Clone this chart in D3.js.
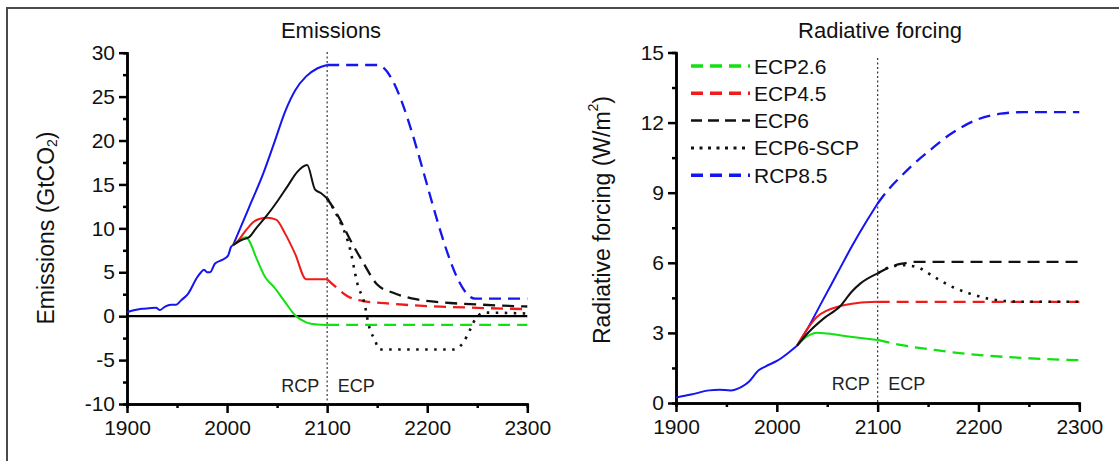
<!DOCTYPE html>
<html>
<head>
<meta charset="utf-8">
<script src="https://cdn.jsdelivr.net/npm/d3@7"></script>
<style>
  body { margin: 0; background: #fff; }
  svg { display: block; font-family: "Liberation Sans", Arial, sans-serif; }
  .axis path, .axis line { stroke: #000; stroke-width: 2.5; }
  .axis text { font-size: 21px; fill: #111; }
</style>
</head>
<body>
<svg width="1119" height="461"></svg>
<script>
// ---- data: [year, value] ----
const emisHistory = [[1900,0.45],[1908,0.7],[1915,0.85],[1922,0.9],[1929,0.95],[1933,0.7],[1938,1.1],[1944,1.3],[1949,1.3],[1954,1.8],[1961,2.55],[1970,4.4],[1974,5.0],[1977,5.3],[1980,5.0],[1983,5.0],[1988,6.0],[1995,6.4],[2001,6.9],[2004,7.9],[2006,8.1]];
const emisRcp85 = [[2006,8.1],[2022,12.4],[2036,16.2],[2047,19.7],[2058,23.3],[2068,25.7],[2079,27.3],[2090,28.2],[2100,28.6],[2150,28.6],[2248,2.0],[2300,2.0]];
const emisEcp45 = [[2006,8.1],[2011,8.6],[2019,9.8],[2026,10.7],[2033,11.1],[2040,11.2],[2049,11.0],[2058,9.4],[2068,7.1],[2079,4.2],[2100,4.2],[2110,3.2],[2120,2.3],[2135,1.75],[2160,1.45],[2200,1.15],[2250,0.95],[2300,0.8]];
const emisEcp6 = [[2006,8.1],[2015,8.7],[2022,9.0],[2029,10.0],[2040,11.5],[2051,13.2],[2061,14.9],[2070,16.4],[2080,17.2],[2088,14.4],[2094,14.0],[2100,13.4],[2110,11.6],[2123,8.7],[2136,6.1],[2150,3.6],[2166,2.66],[2190,1.9],[2223,1.5],[2256,1.3],[2300,1.1]];
const emisEcp6Scp = [[2100,13.4],[2111,11.2],[2123,7.6],[2130,3.8],[2138,1.1],[2141,-0.75],[2148,-2.8],[2152,-3.8],[2226,-3.8],[2236,-3.0],[2243,-1.5],[2250,0.0],[2258,0.4],[2300,0.3]];
const emisEcp26 = [[2006,8.1],[2019,9.0],[2022,8.6],[2029,6.7],[2038,4.45],[2047,3.3],[2058,1.6],[2068,0.1],[2079,-0.7],[2090,-0.95],[2100,-1.0],[2300,-1.0]];

const forcHistory = [[1900,0.23],[1915,0.36],[1933,0.54],[1943,0.57],[1954,0.54],[1965,0.69],[1972,0.9],[1982,1.4],[1989,1.57],[2000,1.8],[2010,2.1],[2020,2.45]];
const forcRcp85 = [[2020,2.45],[2030,3.15],[2045,4.35],[2060,5.55],[2075,6.75],[2090,7.85],[2100,8.54],[2110,9.1],[2122,9.65],[2135,10.2],[2150,10.75],[2172,11.5],[2200,12.15],[2222,12.38],[2245,12.45],[2300,12.45]];
const forcEcp45 = [[2020,2.45],[2030,3.15],[2040,3.69],[2063,4.15],[2080,4.28],[2100,4.33],[2300,4.33]];
const forcEcp6 = [[2020,2.45],[2032,3.05],[2046,3.6],[2063,4.15],[2074,4.75],[2083,5.12],[2100,5.55],[2113,5.83],[2124,5.96],[2138,6.04],[2300,6.04]];
const forcEcp6Scp = [[2100,5.55],[2113,5.83],[2125,5.9],[2138,5.83],[2156,5.4],[2174,4.97],[2191,4.69],[2209,4.47],[2227,4.36],[2245,4.33],[2300,4.33]];
const forcEcp26 = [[2020,2.45],[2030,2.85],[2040,3.01],[2050,2.97],[2073,2.84],[2100,2.7],[2121,2.5],[2156,2.27],[2191,2.09],[2227,1.97],[2262,1.89],[2300,1.83]];

const legendNames = ["ECP2.6", "ECP4.5", "ECP6", "ECP6-SCP", "RCP8.5"];
const yearTicks = [1900, 2000, 2100, 2200, 2300];
const emisTicks = [-10, -5, 0, 5, 10, 15, 20, 25, 30];
const forcTicks = [0, 3, 6, 9, 12, 15];

const GREEN = "#11e011", RED = "#f01a1a", BLUE = "#1515f0", BLACK = "#111";
const DASH = "12,7", DOT = "2.5,6.5";

const svg = d3.select("svg");

// outer frame
svg.append("rect").attr("x", 7).attr("y", 8).attr("width", 1130).attr("height", 470)
  .attr("fill", "#fff").attr("stroke", "#4a4a4a").attr("stroke-width", 2);

function panel(cfg) {
  const g = svg.append("g");
  const x = d3.scaleLinear().domain([1900, 2300]).range(cfg.xr);
  const y = d3.scaleLinear().domain(cfg.yd).range(cfg.yr);
  const line = d3.line().x(d => x(d[0])).y(d => y(d[1])).curve(d3.curveMonotoneX);

  // minor ticks
  g.append("g").attr("class", "axis").attr("transform", `translate(0,${cfg.yr[0]})`)
    .call(d3.axisBottom(x).tickValues(d3.range(1950, 2300, 100)).tickSize(4).tickFormat(""));
  g.append("g").attr("class", "axis").attr("transform", `translate(${cfg.xr[0]},0)`)
    .call(d3.axisLeft(y).tickValues(cfg.minor).tickSize(4).tickFormat(""));

  const xa = g.append("g").attr("class", "axis").attr("transform", `translate(0,${cfg.yr[0]})`)
    .call(d3.axisBottom(x).tickValues(yearTicks).tickSize(9).tickSizeOuter(0).tickFormat(d => String(d)));
  xa.selectAll("text").attr("y", 16);
  const ya = g.append("g").attr("class", "axis").attr("transform", `translate(${cfg.xr[0]},0)`)
    .call(d3.axisLeft(y).tickValues(cfg.ticks).tickSize(8).tickSizeOuter(0).tickFormat(d => String(d)));
  ya.selectAll("text").attr("x", -12);

  if (cfg.zero) {
    g.append("line").attr("x1", x(1900)).attr("x2", x(2300)).attr("y1", y(0)).attr("y2", y(0))
      .attr("stroke", "#000").attr("stroke-width", 2.2);
  }

  // RCP | ECP divider
  g.append("line").attr("x1", x(2100)).attr("x2", x(2100)).attr("y1", cfg.divTop).attr("y2", cfg.yr[0])
    .attr("stroke", "#333").attr("stroke-width", 1.2).attr("stroke-dasharray", "2,2.5");
  g.append("text").attr("x", x(2100) - 27).attr("y", cfg.rcpY).attr("text-anchor", "middle")
    .attr("font-size", 18).attr("fill", "#222").text("RCP");
  g.append("text").attr("x", x(2100) + 29).attr("y", cfg.rcpY).attr("text-anchor", "middle")
    .attr("font-size", 18).attr("fill", "#222").text("ECP");

  // series: solid up to 2100, dashed after
  const draw = (data, color, dash, w) => g.append("path").attr("d", line(data))
    .attr("fill", "none").attr("stroke", color).attr("stroke-width", w || 2)
    .attr("stroke-dasharray", dash || null);
  const split = (data, color) => {
    draw(data.filter(d => d[0] <= 2100), color);
    draw(data.filter(d => d[0] >= 2100), color, DASH, 2.3);
  };
  draw(cfg.history, BLUE);
  split(cfg.rcp85, BLUE);
  split(cfg.ecp26, GREEN);
  split(cfg.ecp45, RED);
  split(cfg.ecp6, BLACK);
  draw(cfg.scp, BLACK, DOT, 2.6);

  // titles
  g.append("text").attr("x", cfg.titleX).attr("y", 38).attr("text-anchor", "middle")
    .attr("font-size", 22).attr("fill", "#111").text(cfg.title);
  const yl = g.append("text").attr("transform", `translate(${cfg.ylabX},${cfg.ylabY}) rotate(-90)`)
    .attr("text-anchor", "middle").attr("dominant-baseline", "central")
    .attr("font-size", 23).attr("fill", "#111");
  yl.append("tspan").text(cfg.ylab[0]);
  yl.append("tspan").attr("font-size", 14).attr("dy", cfg.ylab[2]).text(cfg.ylab[1]);
  yl.append("tspan").attr("dy", -cfg.ylab[2]).text(cfg.ylab[3]);
  return { g, x, y };
}

panel({
  xr: [127, 527.3], yd: [-10, 30], yr: [404, 52.7], ticks: emisTicks,
  minor: d3.range(-7.5, 30, 5), zero: true, divTop: 52, rcpY: 392,
  history: emisHistory, rcp85: emisRcp85, ecp26: emisEcp26, ecp45: emisEcp45, ecp6: emisEcp6, scp: emisEcp6Scp,
  title: "Emissions", titleX: 331, ylabX: 46, ylabY: 228, ylab: ["Emissions (GtCO", "2", 6, ")"]
});

const right = panel({
  xr: [676, 1079.3], yd: [0, 15], yr: [403, 52.5], ticks: forcTicks,
  minor: d3.range(1.5, 15, 3), zero: false, divTop: 58, rcpY: 390,
  history: forcHistory, rcp85: forcRcp85, ecp26: forcEcp26, ecp45: forcEcp45, ecp6: forcEcp6, scp: forcEcp6Scp,
  title: "Radiative forcing", titleX: 880, ylabX: 602, ylabY: 220, ylab: ["Radiative forcing (W/m", "2", -9, ")"]
});

// legend
const legendStyle = [
  { color: GREEN, dash: DASH, w: 3.5 },
  { color: RED, dash: DASH, w: 3.5 },
  { color: BLACK, dash: "11,6", w: 2.5 },
  { color: BLACK, dash: "3,5.5", w: 3 },
  { color: BLUE, dash: DASH, w: 3.5 }
];
const legend = right.g.append("g");
legendNames.forEach((name, i) => {
  const ly = 66 + i * 27.3;
  legend.append("line").attr("x1", 691).attr("x2", 750).attr("y1", ly).attr("y2", ly)
    .attr("stroke", legendStyle[i].color).attr("stroke-width", legendStyle[i].w)
    .attr("stroke-dasharray", legendStyle[i].dash);
  legend.append("text").attr("x", 754).attr("y", ly).attr("dominant-baseline", "central")
    .attr("font-size", 21).attr("fill", "#111").text(name);
});
</script>
</body>
</html>
